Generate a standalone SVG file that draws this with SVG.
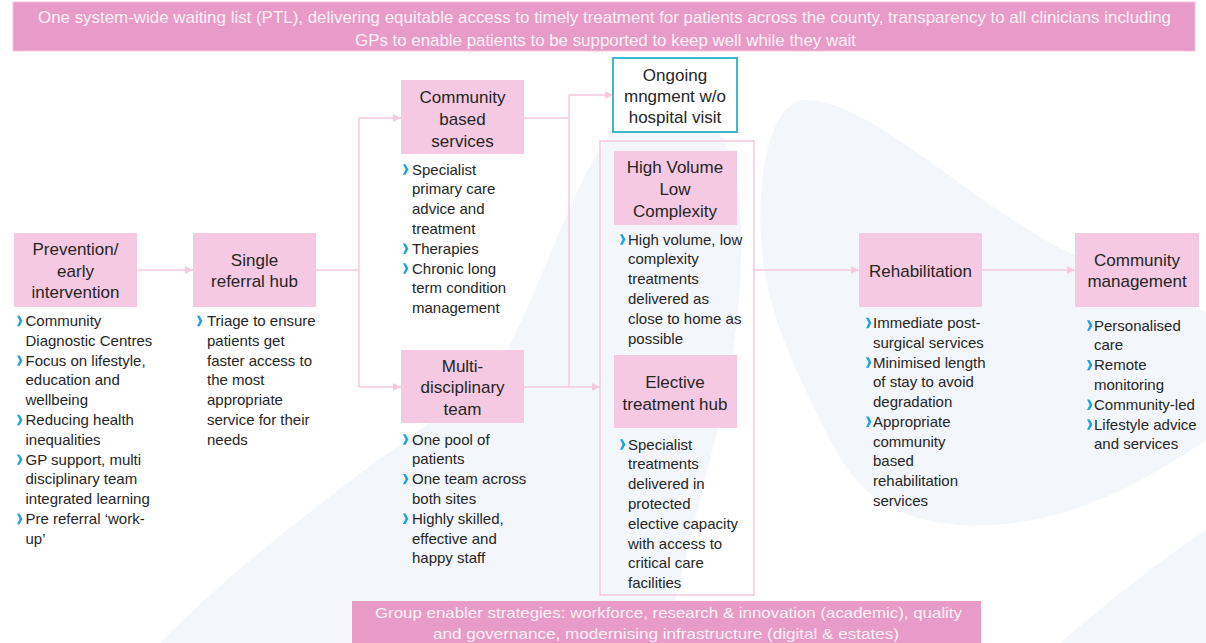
<svg xmlns="http://www.w3.org/2000/svg" width="1206" height="643" viewBox="0 0 1206 643">
<style>
.bg{fill:#f3f6fa}
.box{fill:#f4c9e1}
.t{font-family:"Liberation Sans",Arial,sans-serif;font-size:17px;fill:#262626;text-anchor:middle}
.b{font-family:"Liberation Sans",Arial,sans-serif;font-size:15px;fill:#262626}
.ban{fill:#e99bc7}
.bt{font-family:"Liberation Sans",Arial,sans-serif;fill:#fdf2f8;text-anchor:middle}
.c{fill:none;stroke:#f6c9dd;stroke-width:1.5}
</style>
<defs>
<marker id="ah" markerWidth="9" markerHeight="9" refX="8" refY="4.5" orient="auto" markerUnits="userSpaceOnUse"><path d="M0,0.5 L8,4.5 L0,8.5 Z" fill="#f6c9dd"/></marker>
<path id="chev" d="M0,-5.2 L2.6,-5.2 L5.4,0 L2.6,5.2 L0,5.2 L2.6,0 Z" fill="#1ea3e2"/>
</defs>
<rect width="1206" height="643" fill="#ffffff"/>
<g id="background">
<path class="bg" d="M160 643 C260 540 420 430 490 380 C540 300 570 180 620 120 C650 88 695 95 722 135 C748 180 748 300 720 420 C700 500 680 580 665 643 Z"/>
<path class="bg" d="M762 250 C755 180 770 100 805 100 C870 100 960 195 1060 248 C1120 278 1170 300 1206 312 L1206 440 C1120 500 1040 530 960 525 C900 520 860 500 830 440 C795 370 766 310 762 250 Z"/>
<path class="bg" d="M1060 643 C1110 600 1160 560 1206 530 L1206 643 Z"/>
</g>
<g id="top-banner">
<rect class="ban" x="13" y="2" width="1182" height="49" stroke="#f3c5dd" stroke-width="1"/>
<text class="bt" font-size="17" x="604.5" y="22.5" textLength="1133" lengthAdjust="spacingAndGlyphs">One system-wide waiting list (PTL), delivering equitable access to timely treatment for patients across the county, transparency to all clinicians including</text>
<text class="bt" font-size="17" x="605.5" y="45.5" textLength="501" lengthAdjust="spacingAndGlyphs">GPs to enable patients to be supported to keep well while they wait</text>
</g>
<g id="connectors">
<path class="c" d="M137 270 H193" marker-end="url(#ah)"/>
<path class="c" d="M316 270 H359"/>
<path class="c" d="M359 118 V387"/>
<path class="c" d="M359 118 H401" marker-end="url(#ah)"/>
<path class="c" d="M359 387 H401" marker-end="url(#ah)"/>
<path class="c" d="M524 118 H569"/>
<path class="c" d="M569 95 V387"/>
<path class="c" d="M569 95 H613" marker-end="url(#ah)"/>
<path class="c" d="M524 387 H600" marker-end="url(#ah)"/>
<path class="c" d="M754 270 H859" marker-end="url(#ah)"/>
<path class="c" d="M982 270 H1075" marker-end="url(#ah)"/>
</g>
<g id="prevention">
<rect class="box" x="14" y="233" width="123" height="74"/>
<text class="t" x="75.5" y="255">Prevention/</text>
<text class="t" x="75.5" y="276.7">early</text>
<text class="t" x="75.5" y="298.3">intervention</text>
<use href="#chev" x="17" y="321"/><use href="#chev" x="17" y="360.6"/><use href="#chev" x="17" y="420"/><use href="#chev" x="17" y="459.6"/><use href="#chev" x="17" y="519"/>
<text class="b" x="25.5" y="326"><tspan x="25.5">Community</tspan><tspan x="25.5" dy="19.8">Diagnostic Centres</tspan><tspan x="25.5" dy="19.8">Focus on lifestyle,</tspan><tspan x="25.5" dy="19.8">education and</tspan><tspan x="25.5" dy="19.8">wellbeing</tspan><tspan x="25.5" dy="19.8">Reducing health</tspan><tspan x="25.5" dy="19.8">inequalities</tspan><tspan x="25.5" dy="19.8">GP support, multi</tspan><tspan x="25.5" dy="19.8">disciplinary team</tspan><tspan x="25.5" dy="19.8">integrated learning</tspan><tspan x="25.5" dy="19.8">Pre referral ‘work-</tspan><tspan x="25.5" dy="19.8">up’</tspan></text>
</g>
<g id="single-referral-hub">
<rect class="box" x="193" y="233" width="123" height="74"/>
<text class="t" x="254.5" y="266">Single</text>
<text class="t" x="254.5" y="287.3">referral  hub</text>
<use href="#chev" x="197" y="321"/>
<text class="b" x="207" y="326"><tspan x="207">Triage to ensure</tspan><tspan x="207" dy="19.8">patients get</tspan><tspan x="207" dy="19.8">faster access to</tspan><tspan x="207" dy="19.8">the most</tspan><tspan x="207" dy="19.8">appropriate</tspan><tspan x="207" dy="19.8">service for their</tspan><tspan x="207" dy="19.8">needs</tspan></text>
</g>
<g id="community-based-services">
<rect class="box" x="401" y="80" width="123" height="74"/>
<text class="t" x="462.5" y="103.3">Community</text>
<text class="t" x="462.5" y="125">based</text>
<text class="t" x="462.5" y="146.7">services</text>
<use href="#chev" x="403" y="169.5"/><use href="#chev" x="403" y="248.7"/><use href="#chev" x="403" y="268.5"/>
<text class="b" x="412" y="174.5"><tspan x="412">Specialist</tspan><tspan x="412" dy="19.8">primary care</tspan><tspan x="412" dy="19.8">advice and</tspan><tspan x="412" dy="19.8">treatment</tspan><tspan x="412" dy="19.8">Therapies</tspan><tspan x="412" dy="19.8">Chronic long</tspan><tspan x="412" dy="19.8">term condition</tspan><tspan x="412" dy="19.8">management</tspan></text>
</g>
<g id="multi-disciplinary-team">
<rect class="box" x="401" y="350" width="123" height="73"/>
<text class="t" x="462.5" y="371.7">Multi-</text>
<text class="t" x="462.5" y="393.3">disciplinary</text>
<text class="t" x="462.5" y="415">team</text>
<use href="#chev" x="403" y="439.5"/><use href="#chev" x="403" y="479.1"/><use href="#chev" x="403" y="518.7"/>
<text class="b" x="412" y="444.5"><tspan x="412">One pool of</tspan><tspan x="412" dy="19.8">patients</tspan><tspan x="412" dy="19.8">One team across</tspan><tspan x="412" dy="19.8">both sites</tspan><tspan x="412" dy="19.8">Highly skilled,</tspan><tspan x="412" dy="19.8">effective and</tspan><tspan x="412" dy="19.8">happy staff</tspan></text>
</g>
<g id="ongoing-management">
<rect x="613" y="58" width="124" height="74" fill="#ffffff" stroke="#3cb7cc" stroke-width="2"/>
<text class="t" x="675" y="80.7">Ongoing</text>
<text class="t" x="675" y="101.7">mngment w/o</text>
<text class="t" x="675" y="123.3">hospital visit</text>
</g>
<g id="hospital-group">
<rect x="600" y="141" width="154" height="454" fill="none" stroke="#f6c9dd" stroke-width="1.5"/>
</g>
<g id="high-volume-low-complexity">
<rect class="box" x="614" y="151" width="123" height="74"/>
<text class="t" x="675" y="173.3">High Volume</text>
<text class="t" x="675" y="195">Low</text>
<text class="t" x="675" y="216.7">Complexity</text>
<use href="#chev" x="620" y="239.5"/>
<text class="b" x="628" y="244.5"><tspan x="628">High volume, low</tspan><tspan x="628" dy="19.8">complexity</tspan><tspan x="628" dy="19.8">treatments</tspan><tspan x="628" dy="19.8">delivered as</tspan><tspan x="628" dy="19.8">close to home as</tspan><tspan x="628" dy="19.8">possible</tspan></text>
</g>
<g id="elective-treatment-hub">
<rect class="box" x="614" y="355" width="123" height="73"/>
<text class="t" x="675" y="388.3">Elective</text>
<text class="t" x="675" y="410">treatment hub</text>
<use href="#chev" x="620" y="444.5"/>
<text class="b" x="628" y="449.5"><tspan x="628">Specialist</tspan><tspan x="628" dy="19.8">treatments</tspan><tspan x="628" dy="19.8">delivered in</tspan><tspan x="628" dy="19.8">protected</tspan><tspan x="628" dy="19.8">elective capacity</tspan><tspan x="628" dy="19.8">with access to</tspan><tspan x="628" dy="19.8">critical care</tspan><tspan x="628" dy="19.8">facilities</tspan></text>
</g>
<g id="rehabilitation">
<rect class="box" x="859" y="233" width="123" height="74"/>
<text class="t" x="920.5" y="277.3">Rehabilitation</text>
<use href="#chev" x="866" y="323"/><use href="#chev" x="866" y="362.5"/><use href="#chev" x="866" y="421.8"/>
<text class="b" x="873" y="328"><tspan x="873">Immediate post-</tspan><tspan x="873" dy="19.75">surgical services</tspan><tspan x="873" dy="19.75">Minimised length</tspan><tspan x="873" dy="19.75">of stay to avoid</tspan><tspan x="873" dy="19.75">degradation</tspan><tspan x="873" dy="19.75">Appropriate</tspan><tspan x="873" dy="19.75">community</tspan><tspan x="873" dy="19.75">based</tspan><tspan x="873" dy="19.75">rehabilitation</tspan><tspan x="873" dy="19.75">services</tspan></text>
</g>
<g id="community-management">
<rect class="box" x="1075" y="233" width="124" height="74"/>
<text class="t" x="1137" y="266">Community</text>
<text class="t" x="1137" y="286.7">management</text>
<use href="#chev" x="1087" y="325.5"/><use href="#chev" x="1087" y="365.1"/><use href="#chev" x="1087" y="404.7"/><use href="#chev" x="1087" y="424.5"/>
<text class="b" x="1094" y="330.5"><tspan x="1094">Personalised</tspan><tspan x="1094" dy="19.8">care</tspan><tspan x="1094" dy="19.8">Remote</tspan><tspan x="1094" dy="19.8">monitoring</tspan><tspan x="1094" dy="19.8">Community-led</tspan><tspan x="1094" dy="19.8">Lifestyle advice</tspan><tspan x="1094" dy="19.8">and services</tspan></text>
</g>
<g id="bottom-banner">
<rect class="ban" x="352" y="601" width="629" height="44"/>
<text class="bt" font-size="15" x="668.5" y="618" textLength="587" lengthAdjust="spacingAndGlyphs">Group enabler strategies: workforce, research &amp; innovation (academic), quality</text>
<text class="bt" font-size="15" x="666" y="638.5" textLength="466" lengthAdjust="spacingAndGlyphs">and governance, modernising infrastructure (digital &amp; estates)</text>
</g>
</svg>
